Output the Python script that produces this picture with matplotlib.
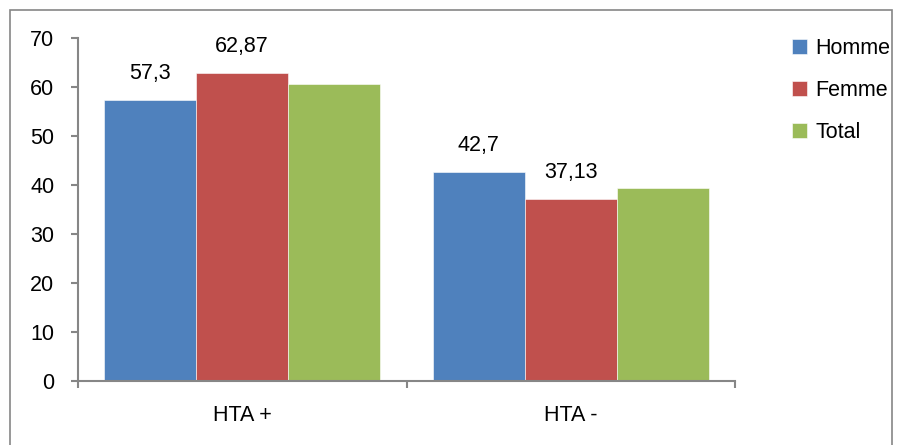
import matplotlib
matplotlib.use('Agg')
import matplotlib.pyplot as plt
import numpy as np

categories = ['HTA +', 'HTA -']
series = ['Homme', 'Femme', 'Total']
homme = [57.3, 42.7]
femme = [62.87, 37.13]
total = [60.6, 39.4]
labels_homme = ['57,3', '42,7']
labels_femme = ['62,87', '37,13']

colors = ['#4F81BD', '#C0504D', '#9BBB59']
axis_gray = '#868686'
fs = 15.5

plt.rcParams['font.family'] = ['Liberation Sans', 'DejaVu Sans']

fig = plt.figure(figsize=(9.02, 4.45), dpi=100)
ax = fig.add_axes([78 / 902, 1 - 381 / 445, (735 - 78) / 902, (381 - 38) / 445])

# outer chart border
fig.patches.append(plt.Rectangle((10 / 902, -0.05), 882 / 902, 1 - 10 / 445 + 0.05,
                                 transform=fig.transFigure, fill=False,
                                 edgecolor=axis_gray, linewidth=1.2))

x = np.arange(len(categories))
w = 0.28
for i, (vals, name) in enumerate(zip([homme, femme, total], series)):
    bars = ax.bar(x + (i - 1) * w, vals, width=w, color=colors[i], label=name,
                  edgecolor='white', linewidth=0.4)
    texts = {'Homme': labels_homme, 'Femme': labels_femme}.get(name)
    if texts:
        for b, t in zip(bars, texts):
            ax.annotate(t, (b.get_x() + b.get_width() / 2, b.get_height()),
                        xytext=(0, 15), textcoords='offset points',
                        ha='center', va='baseline', fontsize=fs)

ax.set_xlim(-0.5, 1.5)
ax.set_ylim(0, 70)
ax.set_yticks(range(0, 71, 10))
ax.set_xticks([-0.5, 0.5, 1.5])
ax.set_xticklabels([])
ax.set_xticks(x, minor=True)
ax.set_xticklabels(categories, minor=True)
ax.tick_params(axis='x', which='minor', length=0, pad=17, labelsize=fs)
ax.tick_params(axis='x', which='major', length=5, width=1.5, color=axis_gray, direction='out')
ax.tick_params(axis='y', length=5, width=1.5, color=axis_gray, labelsize=fs, pad=12)

for s in ['top', 'right']:
    ax.spines[s].set_visible(False)
for s in ['left', 'bottom']:
    ax.spines[s].set_color(axis_gray)
    ax.spines[s].set_linewidth(1.5)

ax.legend(loc='upper left', bbox_to_anchor=(792 / 902, 1 - 38 / 445),
          bbox_transform=fig.transFigure, frameon=False, fontsize=fs,
          handlelength=0.7, handleheight=0.7, handletextpad=0.4,
          labelspacing=0.98, borderpad=0, borderaxespad=0)

fig.savefig('out.png', dpi=100)
